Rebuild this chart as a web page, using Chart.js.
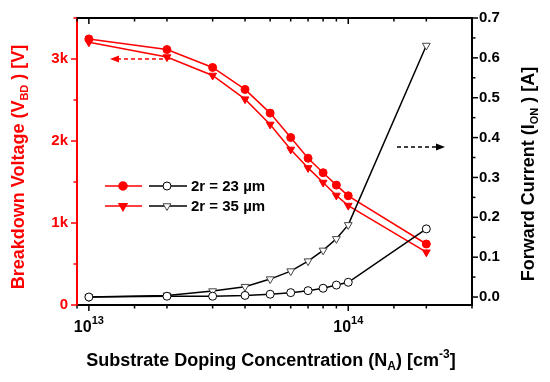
<!DOCTYPE html>
<html>
<head>
<meta charset="utf-8">
<script src="https://cdn.jsdelivr.net/npm/chart.js@4.4.0/dist/chart.umd.min.js"></script>
<style>
  html, body { margin: 0; padding: 0; background: #fff; }
  #wrap { width: 550px; height: 382px; }
</style>
</head>
<body>
<div id="wrap"><canvas id="chart"></canvas></div>
<script>
// doping concentration N_A [cm^-3]
const concentration = [1e13, 2e13, 3e13, 4e13, 5e13, 6e13, 7e13, 8e13, 9e13, 1e14, 2e14];
// breakdown voltage [V]
const bv23 = [3245, 3115, 2897, 2629, 2340, 2043, 1790, 1613, 1462, 1332, 744];
const bv35 = [3205, 3024, 2799, 2510, 2202, 1897, 1672, 1494, 1336, 1213, 644];
// forward current [A]
const ion23 = [0.0, 0.002, 0.002, 0.004, 0.007, 0.011, 0.016, 0.022, 0.030, 0.037, 0.171];
const ion35 = [0.0, 0.004, 0.015, 0.026, 0.045, 0.065, 0.090, 0.117, 0.146, 0.181, 0.631];

const seriesLabels = ['2r = 23 µm', '2r = 35 µm'];
const decadeTicks = [1e13, 1e14];
const decadeExponents = ['13', '14'];
const voltageTicks = [0, 1000, 2000, 3000];
const voltageLabels = ['0', '1k', '2k', '3k'];
const currentTicks = [0.0, 0.1, 0.2, 0.3, 0.4, 0.5, 0.6, 0.7];

const FONT = '"Liberation Sans", Arial, sans-serif';
const RED = '#ff0000';

const toPoints = (ys) => concentration.map((c, i) => ({ x: c, y: ys[i] }));

const line = (ctx, x1, y1, x2, y2) => {
  ctx.beginPath();
  ctx.moveTo(x1, y1);
  ctx.lineTo(x2, y2);
  ctx.stroke();
};

// draws text made of parts [text, size, dy], centred on x
const drawRich = (ctx, parts, x, y) => {
  let total = 0;
  parts.forEach(([t, size]) => {
    ctx.font = `bold ${size}px ${FONT}`;
    total += ctx.measureText(t).width;
  });
  let cx = x - total / 2;
  ctx.textAlign = 'left';
  ctx.textBaseline = 'alphabetic';
  parts.forEach(([t, size, dy]) => {
    ctx.font = `bold ${size}px ${FONT}`;
    ctx.fillText(t, cx, y + dy);
    cx += ctx.measureText(t).width;
  });
};

const arrow = (ctx, x1, x2, y, color) => {
  // dashed shaft from x1 to head at x2
  const dir = Math.sign(x2 - x1);
  ctx.strokeStyle = color;
  ctx.fillStyle = color;
  ctx.lineWidth = 1.5;
  ctx.setLineDash([4, 3]);
  line(ctx, x1, y, x2 - dir * 7, y);
  ctx.setLineDash([]);
  ctx.beginPath();
  ctx.moveTo(x2, y);
  ctx.lineTo(x2 - dir * 9, y - 3.5);
  ctx.lineTo(x2 - dir * 9, y + 3.5);
  ctx.closePath();
  ctx.fill();
};

const decor = {
  id: 'decor',
  afterDraw(chart) {
    const { ctx, chartArea: a, scales } = chart;
    const { x, yL, yR } = scales;
    ctx.save();

    // top frame
    ctx.strokeStyle = '#000';
    ctx.lineWidth = 2;
    line(ctx, a.left - 1, a.top, a.right + 1, a.top);

    // x ticks, bottom outward and top inward
    ctx.lineWidth = 1.5;
    x.ticks.forEach((t) => {
      const px = x.getPixelForValue(t.value);
      const lg = Math.log10(t.value);
      const major = Math.abs(lg - Math.round(lg)) < 1e-6;
      const len = major ? 6 : 3.5;
      line(ctx, px, a.bottom, px, a.bottom + len);
      line(ctx, px, a.top, px, a.top + len);
    });

    // x tick labels 10^n
    ctx.fillStyle = '#000';
    decadeTicks.forEach((v, i) => {
      const px = x.getPixelForValue(v);
      drawRich(ctx, [['10', 16, 0], [decadeExponents[i], 11, -8]], px, 332);
    });

    // left ticks
    ctx.strokeStyle = RED;
    for (let v = 0; v <= 3500; v += 500) {
      const py = yL.getPixelForValue(v);
      line(ctx, a.left, py, a.left - (v % 1000 === 0 ? 6 : 3.5), py);
    }

    // right ticks
    ctx.strokeStyle = '#000';
    for (let k = 0; k <= 14; k++) {
      const py = yR.getPixelForValue(k * 0.05);
      line(ctx, a.right, py, a.right + (k % 2 === 0 ? 6 : 3.5), py);
    }

    // axis titles
    ctx.fillStyle = '#000';
    drawRich(ctx, [
      ['Substrate Doping Concentration (N', 18, 0],
      ['A', 12, 4],
      [') [cm', 18, 0],
      ['-3', 12, -8],
      [']', 18, 0],
    ], 271, 366);

    ctx.save();
    ctx.translate(24, 167);
    ctx.rotate(-Math.PI / 2);
    ctx.fillStyle = RED;
    drawRich(ctx, [
      ['Breakdown Voltage (V', 18, 0],
      ['BD', 11, 4],
      [' ) [V]', 18, 0],
    ], 0, 0);
    ctx.restore();

    ctx.save();
    ctx.translate(534, 174);
    ctx.rotate(-Math.PI / 2);
    ctx.fillStyle = '#000';
    drawRich(ctx, [
      ['Forward Current (I', 18, 0],
      ['ON', 11, 4],
      [' ) [A]', 18, 0],
    ], 0, 0);
    ctx.restore();

    // legend
    const rows = [
      { y: 186, redStyle: 'circle', blackStyle: 'circle', rot: 0, r: 4 },
      { y: 206, redStyle: 'triangle', blackStyle: 'triangle', rot: 180, r: 4.5 },
    ];
    rows.forEach((r, i) => {
      ctx.lineWidth = 1.5;
      ctx.strokeStyle = RED;
      line(ctx, 105, r.y, 142, r.y);
      ctx.fillStyle = RED;
      Chart.helpers.drawPoint(ctx, { pointStyle: r.redStyle, radius: r.r, rotation: r.rot, borderWidth: 1 }, 123, r.y);
      ctx.strokeStyle = '#000';
      line(ctx, 149, r.y, 187, r.y);
      ctx.fillStyle = '#fff';
      ctx.strokeStyle = i === 0 ? '#000' : '#444';
      ctx.lineWidth = 1;
      Chart.helpers.drawPoint(ctx, { pointStyle: r.blackStyle, radius: r.r, rotation: r.rot, borderWidth: 1 }, 167, r.y);
      ctx.fillStyle = '#000';
      ctx.font = `bold 15px ${FONT}`;
      ctx.textAlign = 'left';
      ctx.textBaseline = 'middle';
      ctx.fillText(seriesLabels[i], 191, r.y + 1);
    });

    // direction arrows
    arrow(ctx, 170, 110, 59, RED);
    arrow(ctx, 397, 445, 147, '#000');

    ctx.restore();
  },
};

new Chart(document.getElementById('chart'), {
  type: 'line',
  data: {
    datasets: [
      {
        data: toPoints(ion23), yAxisID: 'yR',
        borderColor: '#000', borderWidth: 1.5,
        pointStyle: 'circle', pointRadius: 4,
        pointBackgroundColor: '#fff', pointBorderColor: '#000', pointBorderWidth: 1,
      },
      {
        data: toPoints(ion35), yAxisID: 'yR',
        borderColor: '#000', borderWidth: 1.5,
        pointStyle: 'triangle', pointRotation: 180, pointRadius: 4.5,
        pointBackgroundColor: '#fff', pointBorderColor: '#444', pointBorderWidth: 1,
      },
      {
        data: toPoints(bv23), yAxisID: 'yL',
        borderColor: RED, borderWidth: 1.5,
        pointStyle: 'circle', pointRadius: 4,
        pointBackgroundColor: RED, pointBorderColor: RED, pointBorderWidth: 1,
      },
      {
        data: toPoints(bv35), yAxisID: 'yL',
        borderColor: RED, borderWidth: 1.5,
        pointStyle: 'triangle', pointRotation: 180, pointRadius: 4.5,
        pointBackgroundColor: RED, pointBorderColor: RED, pointBorderWidth: 1,
      },
    ],
  },
  options: {
    responsive: true,
    maintainAspectRatio: false,
    animation: false,
    layout: { padding: { top: 10, left: 0, right: 0, bottom: 0 } },
    elements: { line: { tension: 0 } },
    plugins: { legend: { display: false }, tooltip: { enabled: false } },
    scales: {
      x: {
        type: 'logarithmic',
        position: 'bottom',
        min: 9e12,
        max: 3e14,
        grid: { display: false, drawTicks: false },
        border: { display: true, color: '#000', width: 2 },
        ticks: { display: false },
        afterFit: (s) => { s.height = 77; },
      },
      yL: {
        type: 'linear',
        position: 'left',
        min: 0,
        max: 3500,
        grid: { display: false, drawTicks: false },
        border: { display: true, color: RED, width: 2 },
        afterBuildTicks: (s) => { s.ticks = voltageTicks.map((v) => ({ value: v })); },
        ticks: {
          color: RED,
          padding: 9,
          font: { family: FONT, size: 15, weight: 'bold' },
          callback: (v) => voltageLabels[voltageTicks.indexOf(v)],
        },
        afterFit: (s) => { s.width = 77; },
      },
      yR: {
        type: 'linear',
        position: 'right',
        min: -0.02,
        max: 0.7,
        grid: { display: false, drawTicks: false },
        border: { display: true, color: '#000', width: 2 },
        afterBuildTicks: (s) => { s.ticks = currentTicks.map((v) => ({ value: v })); },
        ticks: {
          color: '#000',
          padding: 7,
          font: { family: FONT, size: 15, weight: 'bold' },
          callback: (v) => v.toFixed(1),
        },
        afterFit: (s) => { s.width = 78; },
      },
    },
  },
  plugins: [decor],
});
</script>
</body>
</html>
